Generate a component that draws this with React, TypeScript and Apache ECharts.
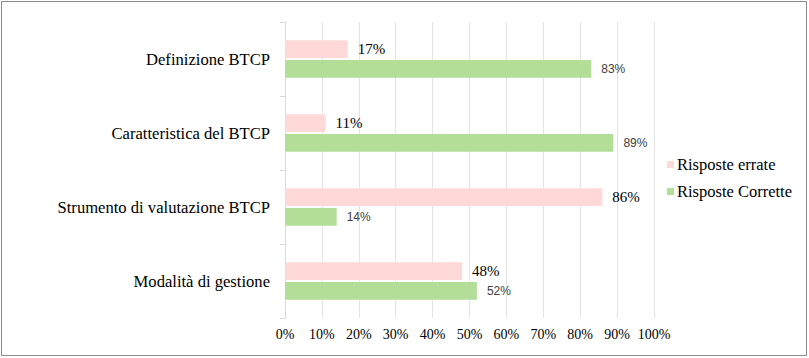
import React, { useEffect, useRef } from "react";
import * as echarts from "echarts";

const categories = ["Modalità di gestione", "Strumento di valutazione BTCP", "Caratteristica del BTCP", "Definizione BTCP"];
const errate = [48, 86, 11, 17];
const corrette = [52, 14, 89, 83];
const seriesNames = ["Risposte errate", "Risposte Corrette"];

const SERIF = "'Liberation Serif', 'Times New Roman', 'DejaVu Serif', serif";
const SANS = "'Liberation Sans', Arial, sans-serif";

export default function App() {
  const ref = useRef<HTMLDivElement>(null);
  useEffect(() => {
    const chart = echarts.init(ref.current!, null, { renderer: "svg" });
    chart.setOption({
      animation: false,
      backgroundColor: "#ffffff",
      graphic: [
        {
          type: "rect",
          shape: { x: 1.5, y: 1.5, width: 805, height: 354 },
          style: { fill: "none", stroke: "#8c8c8c", lineWidth: 1 },
          silent: true,
        },
      ],
      grid: { left: 285, right: 155, top: 22, bottom: 40 },
      legend: {
        orient: "vertical",
        left: 662,
        top: 151,
        itemWidth: 7,
        itemHeight: 7,
        itemGap: 10,
        icon: "rect",
        data: [seriesNames[0], seriesNames[1]],
        textStyle: { fontFamily: SERIF, fontSize: 16.5, color: "#000", padding: [0, 0, 0, -2] },
      },
      xAxis: {
        type: "value",
        min: 0,
        max: 100,
        interval: 10,
        axisLabel: {
          formatter: "{value}%",
          fontFamily: SERIF,
          fontSize: 14,
          color: "#000",
          margin: 9,
        },
        axisLine: { show: false },
        axisTick: { show: false },
        splitLine: { show: true, lineStyle: { color: "#e3e3e3", width: 1 } },
      },
      yAxis: {
        type: "category",
        data: categories,
        axisLine: { show: true, lineStyle: { color: "#d9d9d9" } },
        axisTick: { show: true, length: 5, lineStyle: { color: "#d9d9d9" } },
        axisLabel: {
          fontFamily: SERIF,
          fontSize: 16.6,
          color: "#000",
          margin: 15,
        },
      },
      series: [
        {
          name: seriesNames[0],
          type: "bar",
          data: errate,
          barGap: "11%",
          barCategoryGap: "49%",
          itemStyle: { color: "#ffd8d8" },
          label: {
            show: true,
            position: "right",
            distance: 10,
            formatter: "{c}%",
            fontFamily: SERIF,
            fontSize: 15,
            color: "#000",
          },
        },
        {
          name: seriesNames[1],
          type: "bar",
          data: corrette,
          barGap: "11%",
          barCategoryGap: "49%",
          itemStyle: { color: "#b3de97" },
          label: {
            show: true,
            position: "right",
            distance: 10,
            formatter: "{c}%",
            fontFamily: SANS,
            fontSize: 12,
            color: "#404040",
          },
        },
      ],
    });
    return () => chart.dispose();
  }, []);
  return (
    <div
      ref={ref}
      style={{ position: "fixed", left: 0, top: 0, width: 809, height: 358 }}
    />
  );
}
